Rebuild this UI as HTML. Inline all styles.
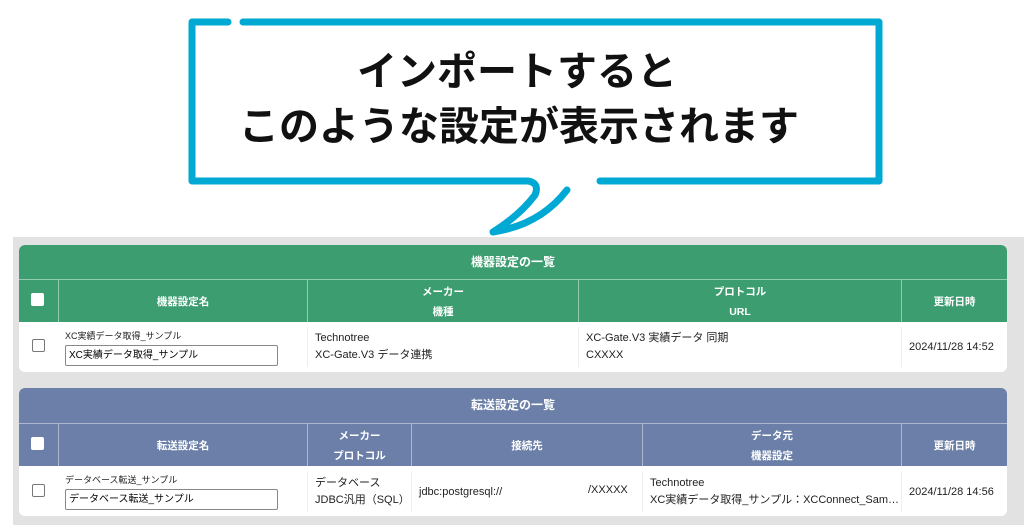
<!DOCTYPE html>
<html><head><meta charset="utf-8"><style>
*{margin:0;padding:0;box-sizing:border-box}
body{width:1024px;height:525px;background:#fff;position:relative;overflow:hidden;font-family:"Liberation Sans","Noto Sans CJK JP",sans-serif}
.bg{position:absolute;left:13px;top:237px;width:1011px;height:288px;background:#e2e2e2}
.panel{position:absolute;left:19px;width:988px;background:#fff;border-radius:6px;overflow:hidden}
.title{height:35px;color:#fff;font-size:12px;font-weight:bold;text-align:center;line-height:35px}
.hdr{position:absolute;color:#fff;font-size:10.5px;font-weight:bold;text-align:center;display:flex;flex-direction:column;justify-content:center;line-height:20px;border-left:1px solid rgba(255,255,255,.45)}
.cell{position:absolute;font-size:11px;color:#222;line-height:17px;display:flex;flex-direction:column;justify-content:center;padding-left:7px;border-left:1px solid #eee}
.cb{position:absolute;width:13px;height:13px;border-radius:2px}
.txt{position:absolute;white-space:nowrap}
</style></head><body>
<svg width="1024" height="240" style="position:absolute;left:0;top:0">
<g fill="none" stroke="#00a9d4" stroke-width="7" stroke-linecap="round" stroke-linejoin="round">
<path d="M228 22 H192 V181 H528 Q540 183 535 195 Q520 215 493 232 Q540 225 567 190"/>
<path d="M243 22 H879 V181 H600"/>
</g>
<text x="517" y="85" font-size="40" font-weight="bold" text-anchor="middle" font-family="Liberation Sans,Noto Sans CJK JP,sans-serif" fill="#111">インポートすると</text>
<text x="519" y="140" font-size="40" font-weight="bold" text-anchor="middle" font-family="Liberation Sans,Noto Sans CJK JP,sans-serif" fill="#111">このような設定が表示されます</text>
</svg>
<div class="bg"></div>

<div class="panel" style="top:245px;height:127px">
<div class="title" style="background:#3c9e70;height:34px;line-height:34px">機器設定の一覧</div>
<div style="position:absolute;top:34px;left:0;width:988px;height:43px;background:#3c9e70;border-top:1px solid rgba(255,255,255,.45)"></div>
<div class="cb" style="left:12px;top:48px;background:#fff"></div>
<div class="hdr" style="left:39px;top:35px;width:249px;height:43px">機器設定名</div>
<div class="hdr" style="left:288px;top:35px;width:271px;height:43px"><span>メーカー</span><span>機種</span></div>
<div class="hdr" style="left:559px;top:35px;width:323px;height:43px"><span>プロトコル</span><span>URL</span></div>
<div class="hdr" style="left:882px;top:35px;width:106px;height:43px">更新日時</div>
<div class="cb" style="left:13px;top:94px;border:1px solid #777"></div>
<div class="txt" style="left:46px;top:84px;font-size:9px;color:#222">XC実績データ取得_サンプル</div>
<div class="txt" style="left:46px;top:100px;width:213px;height:21px;border:1px solid #888;border-radius:2px;font-size:10px;line-height:19px;padding-left:3px">XC実績データ取得_サンプル</div>
<div class="cell" style="left:288px;top:82px;width:271px;height:40px"><span>Technotree</span><span>XC-Gate.V3 データ連携</span></div>
<div class="cell" style="left:559px;top:82px;width:323px;height:40px"><span>XC-Gate.V3 実績データ 同期</span><span>CXXXX</span></div>
<div class="cell" style="left:882px;top:82px;width:106px;height:40px">2024/11/28 14:52</div>
</div>

<div class="panel" style="top:388px;height:128px">
<div class="title" style="background:#6b7fa8">転送設定の一覧</div>
<div style="position:absolute;top:35px;left:0;width:988px;height:43px;background:#6b7fa8;border-top:1px solid rgba(255,255,255,.45)"></div>
<div class="cb" style="left:12px;top:49px;background:#fff"></div>
<div class="hdr" style="left:39px;top:36px;width:249px;height:43px">転送設定名</div>
<div class="hdr" style="left:288px;top:36px;width:104px;height:43px"><span>メーカー</span><span>プロトコル</span></div>
<div class="hdr" style="left:392px;top:36px;width:231px;height:43px">接続先</div>
<div class="hdr" style="left:623px;top:36px;width:259px;height:43px"><span>データ元</span><span>機器設定</span></div>
<div class="hdr" style="left:882px;top:36px;width:106px;height:43px">更新日時</div>
<div class="cb" style="left:13px;top:96px;border:1px solid #777"></div>
<div class="txt" style="left:46px;top:85px;font-size:9px;color:#222">データベース転送_サンプル</div>
<div class="txt" style="left:46px;top:101px;width:213px;height:21px;border:1px solid #888;border-radius:2px;font-size:10px;line-height:19px;padding-left:3px">データベース転送_サンプル</div>
<div class="cell" style="left:288px;top:84px;width:104px;height:40px"><span>データベース</span><span>JDBC汎用（SQL）</span></div>
<div class="cell" style="left:392px;top:84px;width:231px;height:40px">jdbc:postgresql://</div>
<div class="txt" style="left:569px;top:96px;font-size:11px;color:#222">/XXXXX</div>
<div class="cell" style="left:623px;top:84px;width:259px;height:40px"><span>Technotree</span><span>XC実績データ取得_サンプル：XCConnect_Sam…</span></div>
<div class="cell" style="left:882px;top:84px;width:106px;height:40px">2024/11/28 14:56</div>
</div>
</body></html>
